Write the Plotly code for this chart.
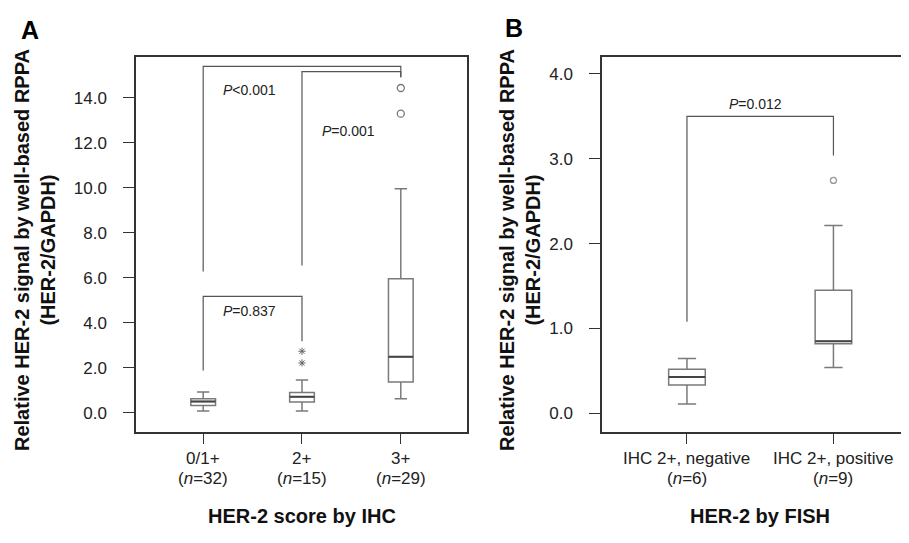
import plotly.graph_objects as go

# ---------------- data ----------------
ihc_cats = ["0/1+", "2+", "3+"]
ihc_n = [32, 15, 29]
ihc_low = [0.07, 0.07, 0.62]
ihc_q1 = [0.32, 0.47, 1.36]
ihc_median = [0.49, 0.71, 2.49]
ihc_q3 = [0.62, 0.89, 5.95]
ihc_high = [0.92, 1.45, 9.96]
ihc_extreme_2plus = [2.21, 2.73]      # stars
ihc_outliers_3plus = [13.3, 14.44]    # circles

fish_cats = ["IHC 2+, negative", "IHC 2+, positive"]
fish_n = [6, 9]
fish_low = [0.11, 0.54]
fish_q1 = [0.333, 0.82]
fish_median = [0.427, 0.85]
fish_q3 = [0.518, 1.45]
fish_high = [0.647, 2.215]
fish_outliers_pos = [2.745]

# significance brackets: (left idx, right idx, left foot, top, right foot, label, label x, label y)
ihc_brackets = [
    (0, 2, 6.28, 15.4, 14.92, "<i>P</i>&lt;0.001", 0.47, 14.33),
    (1, 2, 6.54, 15.17, 14.92, "<i>P</i>=0.001", 1.47, 12.53),
    (0, 1, 1.87, 5.17, 3.18, "<i>P</i>=0.837", 0.47, 4.5),
]
fish_brackets = [
    (0, 1, 1.08, 3.50, 3.04, "<i>P</i>=0.012", 0.47, 3.65),
]

FONT = "Liberation Sans, Arial, sans-serif"
BOX_COL = "#7a7a7a"
MED_COL = "#444444"
BR_COL = "#555555"
BOX_W = 0.25
W, H = 909, 543

fig = go.Figure()


def add_boxes(xa, ya, low, q1, med, q3, high):
    xs = list(range(len(low)))
    fig.add_trace(go.Box(
        x=xs, q1=q1, median=med, q3=q3, lowerfence=low, upperfence=high,
        width=BOX_W, whiskerwidth=0.5, fillcolor="white",
        line=dict(color=BOX_COL, width=1.5), boxpoints=False,
        xaxis=xa, yaxis=ya, showlegend=False, hoverinfo="skip"))
    for i, m in enumerate(med):
        fig.add_trace(go.Scatter(
            x=[i - BOX_W / 2, i + BOX_W / 2], y=[m, m], mode="lines",
            line=dict(color=MED_COL, width=2), xaxis=xa, yaxis=ya,
            showlegend=False, hoverinfo="skip"))


def add_brackets(xa, ya, brackets):
    for (a, b, fa, top, fb, label, lx, ly) in brackets:
        fig.add_trace(go.Scatter(
            x=[a, a, b, b], y=[fa, top, top, fb], mode="lines",
            line=dict(color=BR_COL, width=1.2), xaxis=xa, yaxis=ya,
            showlegend=False, hoverinfo="skip"))
        fig.add_annotation(x=lx, y=ly, xref=xa, yref=ya, text=label,
                           showarrow=False, font=dict(size=14, color="#222", family=FONT))


def add_xlabels(xa, cats, ns):
    for i, (c, n) in enumerate(zip(cats, ns)):
        fig.add_annotation(x=i, y=1 - 450 / H, xref=xa, yref="paper", text=c,
                           showarrow=False, yanchor="middle", xanchor="center",
                           font=dict(size=17, color="#222", family=FONT))
        fig.add_annotation(x=i, y=1 - 470 / H, xref=xa, yref="paper",
                           text=f"(<i>n</i>={n})",
                           showarrow=False, yanchor="middle", xanchor="center",
                           font=dict(size=17, color="#222", family=FONT))


# Panel A
add_boxes("x", "y", ihc_low, ihc_q1, ihc_median, ihc_q3, ihc_high)
fig.add_trace(go.Scatter(
    x=[1] * len(ihc_extreme_2plus), y=ihc_extreme_2plus, mode="markers",
    marker=dict(symbol="asterisk-open", size=6, color="#666", line=dict(color="#666", width=1)),
    xaxis="x", yaxis="y", showlegend=False, hoverinfo="skip"))
fig.add_trace(go.Scatter(
    x=[2] * len(ihc_outliers_3plus), y=ihc_outliers_3plus, mode="markers",
    marker=dict(symbol="circle-open", size=7, color="#777", line=dict(color="#777", width=1.3)),
    xaxis="x", yaxis="y", showlegend=False, hoverinfo="skip"))
add_brackets("x", "y", ihc_brackets)
add_xlabels("x", ihc_cats, ihc_n)

# Panel B
add_boxes("x2", "y2", fish_low, fish_q1, fish_median, fish_q3, fish_high)
fig.add_trace(go.Scatter(
    x=[1] * len(fish_outliers_pos), y=fish_outliers_pos, mode="markers",
    marker=dict(symbol="circle-open", size=6, color="#999", line=dict(color="#999", width=1.3)),
    xaxis="x2", yaxis="y2", showlegend=False, hoverinfo="skip"))
add_brackets("x2", "y2", fish_brackets)
add_xlabels("x2", fish_cats, fish_n)

top_px, bot_px = 49, 423.5
ydom = [1 - bot_px / H, 1 - top_px / H]

axis_common = dict(showline=True, mirror=True, linecolor="#333", linewidth=1.5,
                   showgrid=False, zeroline=False, ticks="outside", ticklen=11,
                   tickcolor="#333", tickwidth=1.3,
                   tickfont=dict(size=17, color="#222", family=FONT))

fig.update_layout(
    width=W, height=H, margin=dict(l=0, r=0, t=0, b=0),
    paper_bgcolor="white", plot_bgcolor="white",
    font=dict(family=FONT, color="#111"),
    xaxis=dict(domain=[128 / W, 459 / W], range=[-0.68, 2.67],
               tickvals=list(range(len(ihc_cats))), showticklabels=False, **axis_common),
    yaxis=dict(domain=ydom, range=[-0.84, 15.82], tickvals=[0, 2, 4, 6, 8, 10, 12, 14],
               tickformat=".1f", anchor="x", ticklabelstandoff=13, **axis_common),
    xaxis2=dict(domain=[594 / W, 908.5 / W], range=[-0.58, 1.567], anchor="y2",
                tickvals=list(range(len(fish_cats))), showticklabels=False, **axis_common),
    yaxis2=dict(domain=ydom, range=[-0.215, 4.2], tickvals=[0, 1, 2, 3, 4],
                tickformat=".1f", anchor="x2", ticklabelstandoff=13, **axis_common),
)

title_font = dict(size=20, color="#111", family=FONT)
ytitle = "<b>Relative HER-2 signal by well-based RPPA<br>(HER-2/GAPDH)</b>"
fig.add_annotation(x=27 / W, y=1 - 242 / H, xref="paper", yref="paper", text=ytitle,
                   textangle=-90, showarrow=False, font=title_font, xanchor="center", yanchor="middle")
fig.add_annotation(x=512 / W, y=1 - 242 / H, xref="paper", yref="paper", text=ytitle,
                   textangle=-90, showarrow=False, font=title_font, xanchor="center", yanchor="middle")
fig.add_annotation(x=293.5 / W, y=1 - 508 / H, xref="paper", yref="paper",
                   text="<b>HER-2 score by IHC</b>", showarrow=False,
                   font=dict(size=20, color="#111", family=FONT), xanchor="center", yanchor="middle")
fig.add_annotation(x=751.5 / W, y=1 - 508 / H, xref="paper", yref="paper",
                   text="<b>HER-2 by FISH</b>", showarrow=False,
                   font=dict(size=20, color="#111", family=FONT), xanchor="center", yanchor="middle")
fig.add_annotation(x=22 / W, y=1 - 22 / H, xref="paper", yref="paper", text="<b>A</b>",
                   showarrow=False, font=dict(size=25, color="#000", family=FONT),
                   xanchor="center", yanchor="middle")
fig.add_annotation(x=506 / W, y=1 - 20 / H, xref="paper", yref="paper", text="<b>B</b>",
                   showarrow=False, font=dict(size=25, color="#000", family=FONT),
                   xanchor="center", yanchor="middle")

fig.write_html("out.html")
